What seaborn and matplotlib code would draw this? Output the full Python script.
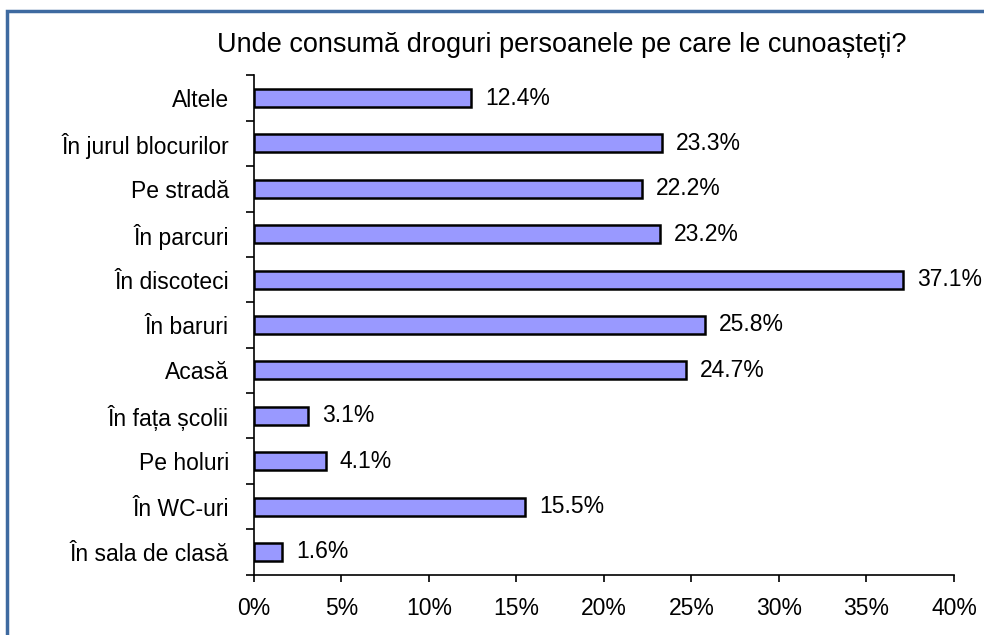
import matplotlib
matplotlib.use("Agg")
import matplotlib.pyplot as plt
import seaborn as sns
import pandas as pd
import numpy as np
from matplotlib.patches import Rectangle
from matplotlib.ticker import FuncFormatter

# date
locuri = ["Altele", "În jurul blocurilor", "Pe stradă", "În parcuri", "În discoteci",
          "În baruri", "Acasă", "În fața școlii", "Pe holuri", "În WC-uri", "În sala de clasă"]
procente = [12.4, 23.3, 22.2, 23.2, 37.1, 25.8, 24.7, 3.1, 4.1, 15.5, 1.6]
titlu = "Unde consumă droguri persoanele pe care le cunoașteți?"

df = pd.DataFrame({"loc": locuri, "procent": procente})

sns.set_style("white")
plt.rcParams["font.family"] = ["Liberation Sans", "DejaVu Sans"]
plt.rcParams["text.color"] = "black"
plt.rcParams["xtick.color"] = "black"
plt.rcParams["ytick.color"] = "black"

fig = plt.figure(figsize=(9.84, 6.35), dpi=100)
ax = fig.add_axes([0.2581, 0.095, 0.9695 - 0.2581, 0.8814 - 0.095])

sns.barplot(data=df, x="procent", y="loc", orient="h", color="#9999FF",
            edgecolor="black", linewidth=1.8, width=0.4, saturation=1, ax=ax)

ax.bar_label(ax.containers[0], labels=[f"{v:.1f}%" for v in procente],
             padding=10, fontsize=16.5, color="black", clip_on=False)

ax.set_xlim(0, 40)
ax.set_ylim(len(locuri) - 0.5, -0.5)
ax.set_xticks(np.arange(0, 41, 5))
ax.xaxis.set_major_formatter(FuncFormatter(lambda v, p: f"{v:.0f}%"))
ax.set_xlabel("")
ax.set_ylabel("")

# liniute pe axa y la granitele categoriilor
ax.set_yticks(np.arange(len(locuri)), labels=locuri)
ax.set_yticks(np.arange(-0.5, len(locuri), 1), minor=True)
ax.tick_params(axis="y", which="major", left=True, length=0, pad=18, labelsize=16.5)
ax.tick_params(axis="y", which="minor", left=True, length=6, width=1.2,
               color="black", direction="out")
ax.tick_params(axis="x", which="major", bottom=True, length=5, width=1.2, color="black",
               direction="out", pad=11, labelsize=16.5)

for s in ["top", "right"]:
    ax.spines[s].set_visible(False)
for s in ["left", "bottom"]:
    ax.spines[s].set_color("black")
    ax.spines[s].set_linewidth(1.2)
ax.grid(False)

fig.text(0.5705, 0.929, titlu, ha="center", va="center", fontsize=19.5, color="black")

# chenarul albastru al graficului
fig.patches.append(Rectangle((7 / 984, -0.05), 1.1, 1.05 - 11.5 / 635,
                             transform=fig.transFigure, fill=False,
                             edgecolor="#3E6AA0", linewidth=2.5))

fig.savefig("out.png", dpi=100)
